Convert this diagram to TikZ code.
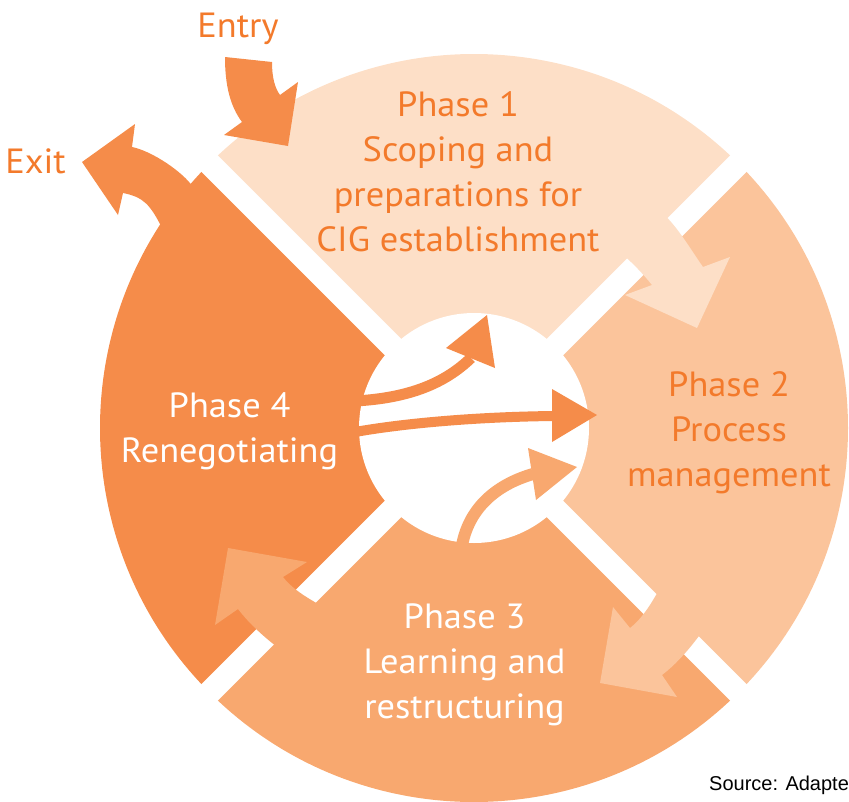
\documentclass[tikz,border=0pt]{standalone}
\usepackage{fontspec}
\setmainfont{PT Sans}[FakeStretch=1.04]
\newfontfamily\srcfont{Liberation Sans}
\definecolor{pone}{HTML}{FDDFC7}
\definecolor{ptwo}{HTML}{FBC49B}
\definecolor{pthree}{HTML}{F8A86F}
\definecolor{pfour}{HTML}{F58C4A}
\definecolor{txtorange}{HTML}{F37A2B}
\tikzset{
  gapline/.style={white, line width=23pt},
  phasetext/.style={align=center, anchor=base, inner sep=0pt, font=\fontsize{35}{45}\selectfont},
  labeltext/.style={anchor=base, inner sep=0pt, text=txtorange, font=\fontsize{35}{45}\selectfont},
}
\begin{document}
\begin{tikzpicture}[x=1pt,y=-1pt]
\useasboundingbox (0,0) rectangle (849,801);
\coordinate (C) at (474,428);
% sectors
\fill[pone]   (C) -- ++(225:374) arc[start angle=225,end angle=315,radius=374] -- cycle;
\fill[ptwo]   (C) -- ++(-45:374) arc[start angle=-45,end angle=45,radius=374] -- cycle;
\fill[pthree] (C) -- ++(45:374) arc[start angle=45,end angle=135,radius=374] -- cycle;
\fill[pfour]  (C) -- ++(135:374) arc[start angle=135,end angle=225,radius=374] -- cycle;
% gaps
\draw[gapline] (C) ++(45:382) -- ++(225:764);
\draw[gapline] (C) ++(135:382) -- ++(315:764);
% inner circle
\fill[white] (C) circle[radius=115];
% arrow phase 1 -> 2
\fill[pone] (621,253) -- (658,209) .. controls (676.8,224.8) and (688.9,247) .. (703,267)
  -- (730,257) -- (697,328) -- (625,295) -- (652,285)
  .. controls (642.7,273.4) and (632.4,262.6) .. (621,253) -- cycle;
% arrow phase 2 -> 3
\fill[ptwo] (673,567) .. controls (658.9,587.1) and (649.4,612.8) .. (630,628)
  -- (613,607) -- (600,683) -- (677,697) -- (662,675)
  .. controls (687,655.9) and (704.9,627.8) .. (723,602) -- cycle;
% arrow phase 3 -> 4
\fill[pthree] (341,618) .. controls (321.8,604.5) and (297.5,595.5) .. (283,577)
  -- (307,562) -- (228,548) -- (215,625) -- (238,609)
  .. controls (256.3,632.9) and (281.3,650.7) .. (306,668) -- cycle;
% exit arrow
\fill[pfour] (200,200) -- (193,187) .. controls (183,172) and (152,151) .. (132,147)
  -- (135,124) -- (82,162) -- (118,215) -- (123,193)
  .. controls (143,197) and (150,204) .. (162,228) -- (190,260) -- cycle;
% entry arrow
\fill[pfour] (225,57) -- (272,62) .. controls (272,78) and (275,88) .. (280,95)
  -- (298,82) -- (288,146) -- (224,135) -- (242,122)
  .. controls (230,106) and (225,85) .. (225,57) -- cycle;
% inner arrows
\draw[pfour, line width=11pt] (355,401) .. controls (410,398) and (445,383) .. (471,358);
\fill[pfour] (487,315) -- (495,368) -- (446,348) -- cycle;
\draw[pfour, line width=10pt] (355,432) .. controls (400,424) and (470,417) .. (553,416);
\fill[pfour] (552,389) -- (597,415) -- (552,442) -- cycle;
\draw[pthree, line width=12pt] (461,552) .. controls (466,510) and (495,485) .. (533,474);
\fill[pthree] (528,448) -- (577,467) -- (536,500) -- cycle;
% texts
\node[phasetext, text=txtorange] (ph1) at (458,251) {Phase 1\\Scoping and\\preparations for\\CIG establishment};
\node[phasetext, text=txtorange] (ph2) at (729,486) {Phase 2\\Process\\management};
\node[phasetext, text=white] (ph3) at (464.5,718) {Phase 3\\Learning and\\restructuring};
\node[phasetext, text=white] (ph4) at (229.5,462) {Phase 4\\Renegotiating};
\node[labeltext] (entry) at (238,37) {Entry};
\node[labeltext] (exit) at (35.5,173) {Exit};
\node[anchor=base west, inner sep=0pt, font=\srcfont\fontsize{20}{24}\selectfont] (src) at (709,790) {Source: Adapte};
\end{tikzpicture}
\end{document}
